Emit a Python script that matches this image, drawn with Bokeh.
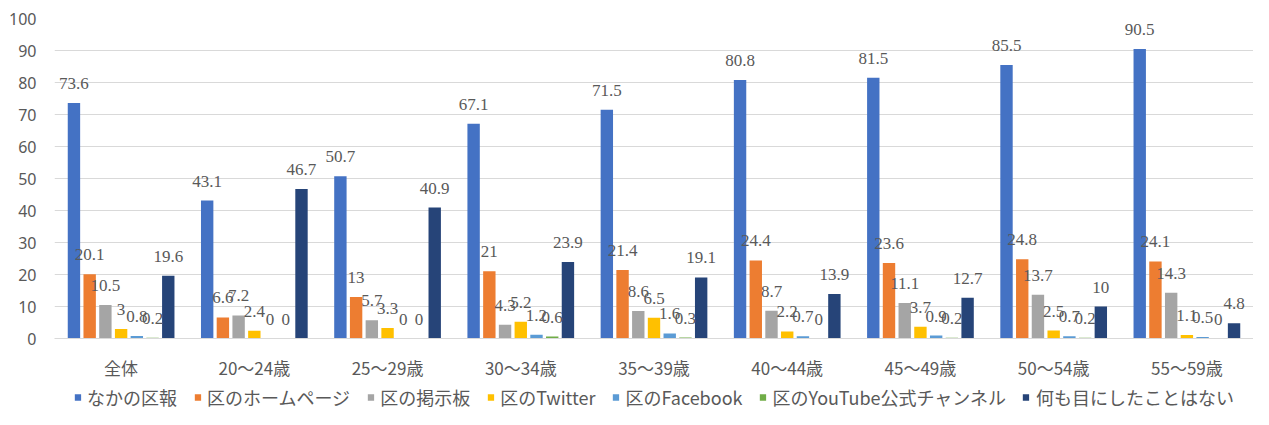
from bokeh.plotting import figure
from bokeh.models import (ColumnDataSource, FactorRange, LabelSet, Legend, LegendItem,
                          FixedTicker)
from bokeh.layouts import column
from bokeh.transform import dodge
from bokeh.embed import file_html
from bokeh.resources import INLINE

groups = ["全体", "20〜24歳", "25〜29歳", "30〜34歳", "35〜39歳",
          "40〜44歳", "45〜49歳", "50〜54歳", "55〜59歳"]
series_names = ["なかの区報", "区のホームページ", "区の掲示板", "区のTwitter",
                "区のFacebook", "区のYouTube公式チャンネル", "何も目にしたことはない"]
kuho = [73.6, 43.1, 50.7, 67.1, 71.5, 80.8, 81.5, 85.5, 90.5]
homepage = [20.1, 6.6, 13, 21, 21.4, 24.4, 23.6, 24.8, 24.1]
keijiban = [10.5, 7.2, 5.7, 4.3, 8.6, 8.7, 11.1, 13.7, 14.3]
twitter = [3, 2.4, 3.3, 5.2, 6.5, 2.2, 3.7, 2.5, 1.1]
facebook = [0.8, 0, 0, 1.2, 1.6, 0.7, 0.9, 0.7, 0.5]
youtube = [0.2, 0, 0, 0.6, 0.3, 0, 0.2, 0.2, 0]
nothing = [19.6, 46.7, 40.9, 23.9, 19.1, 13.9, 12.7, 10, 4.8]
y_ticks = [0, 10, 20, 30, 40, 50, 60, 70, 80, 90, 100]

series_values = [kuho, homepage, keijiban, twitter, facebook, youtube, nothing]
colors = ["#4472C4", "#ED7D31", "#A5A5A5", "#FFC000", "#5B9BD5", "#70AD47", "#264478"]

TXT = "#595959"
p = figure(width=1253, height=385, x_range=FactorRange(*groups, range_padding=0),
           y_range=(0, 100), output_backend="svg", toolbar_location=None,
           min_border_top=18, min_border_bottom=47, min_border_left=54,
           min_border_right=0, background_fill_color="white",
           border_fill_color="white")
p.outline_line_color = None
p.xgrid.grid_line_color = None
p.ygrid.grid_line_color = "#D9D9D9"
p.ygrid.grid_line_width = 1.2
p.yaxis.ticker = FixedTicker(ticks=y_ticks)
p.yaxis.axis_line_color = None
p.yaxis.major_tick_line_color = None
p.yaxis.minor_tick_line_color = None
p.yaxis.major_tick_out = 0
p.yaxis.major_label_standoff = 18
p.yaxis.major_label_text_font = "Noto Sans"
p.yaxis.major_label_text_font_size = "16px"
p.yaxis.major_label_text_color = TXT
p.xaxis.axis_line_color = "#D9D9D9"
p.xaxis.axis_line_width = 1.2
p.xaxis.major_tick_line_color = None
p.xaxis.minor_tick_line_color = None
p.xaxis.major_tick_out = 0
p.xaxis.major_label_standoff = 16
p.xaxis.major_label_text_font = "Noto Sans CJK JP"
p.xaxis.major_label_text_font_size = "17px"
p.xaxis.major_label_text_color = TXT

pitch = 0.118
bw = 0.093

# legend-only strip below the chart
lg = figure(width=1253, height=24, x_range=(0, 1), y_range=(0, 1),
            output_backend="svg", toolbar_location=None,
            min_border_top=0, min_border_bottom=0, min_border_left=50,
            min_border_right=0, background_fill_color="white",
            border_fill_color="white")
lg.axis.visible = False
lg.grid.visible = False
lg.outline_line_color = None

items = []
for i, (name, vals, col) in enumerate(zip(series_names, series_values, colors)):
    off = (i - 3) * pitch
    src = ColumnDataSource(dict(g=groups, v=vals, t=[f"{v:g}" for v in vals]))
    p.vbar(x=dodge("g", off, range=p.x_range), top="v", width=bw, bottom=0,
           source=src, fill_color=col, line_color=None)
    lbl = LabelSet(x=dodge("g", off, range=p.x_range), y="v", text="t", source=src,
                   y_offset=14, text_align="center", text_baseline="bottom",
                   text_font="Noto Sans", text_font_size="17px", text_color=TXT)
    p.add_layout(lbl)
    # swatch renderer placed entirely outside the strip's ranges; only its legend key shows
    lr = lg.vbar(x=[5], bottom=[5], top=[6], width=0.1, fill_color=col, line_color=None)
    items.append(LegendItem(label=name, renderers=[lr]))

legend = Legend(items=items, orientation="horizontal", location="center",
                label_text_font="Noto Sans CJK JP", label_text_font_size="18px",
                label_text_color=TXT, glyph_width=8, glyph_height=8,
                label_standoff=6, spacing=16, padding=0, margin=0,
                border_line_color=None, background_fill_alpha=0)
lg.add_layout(legend)

layout = column(p, lg, spacing=0)
open("out.html", "w").write(file_html(layout, INLINE))
